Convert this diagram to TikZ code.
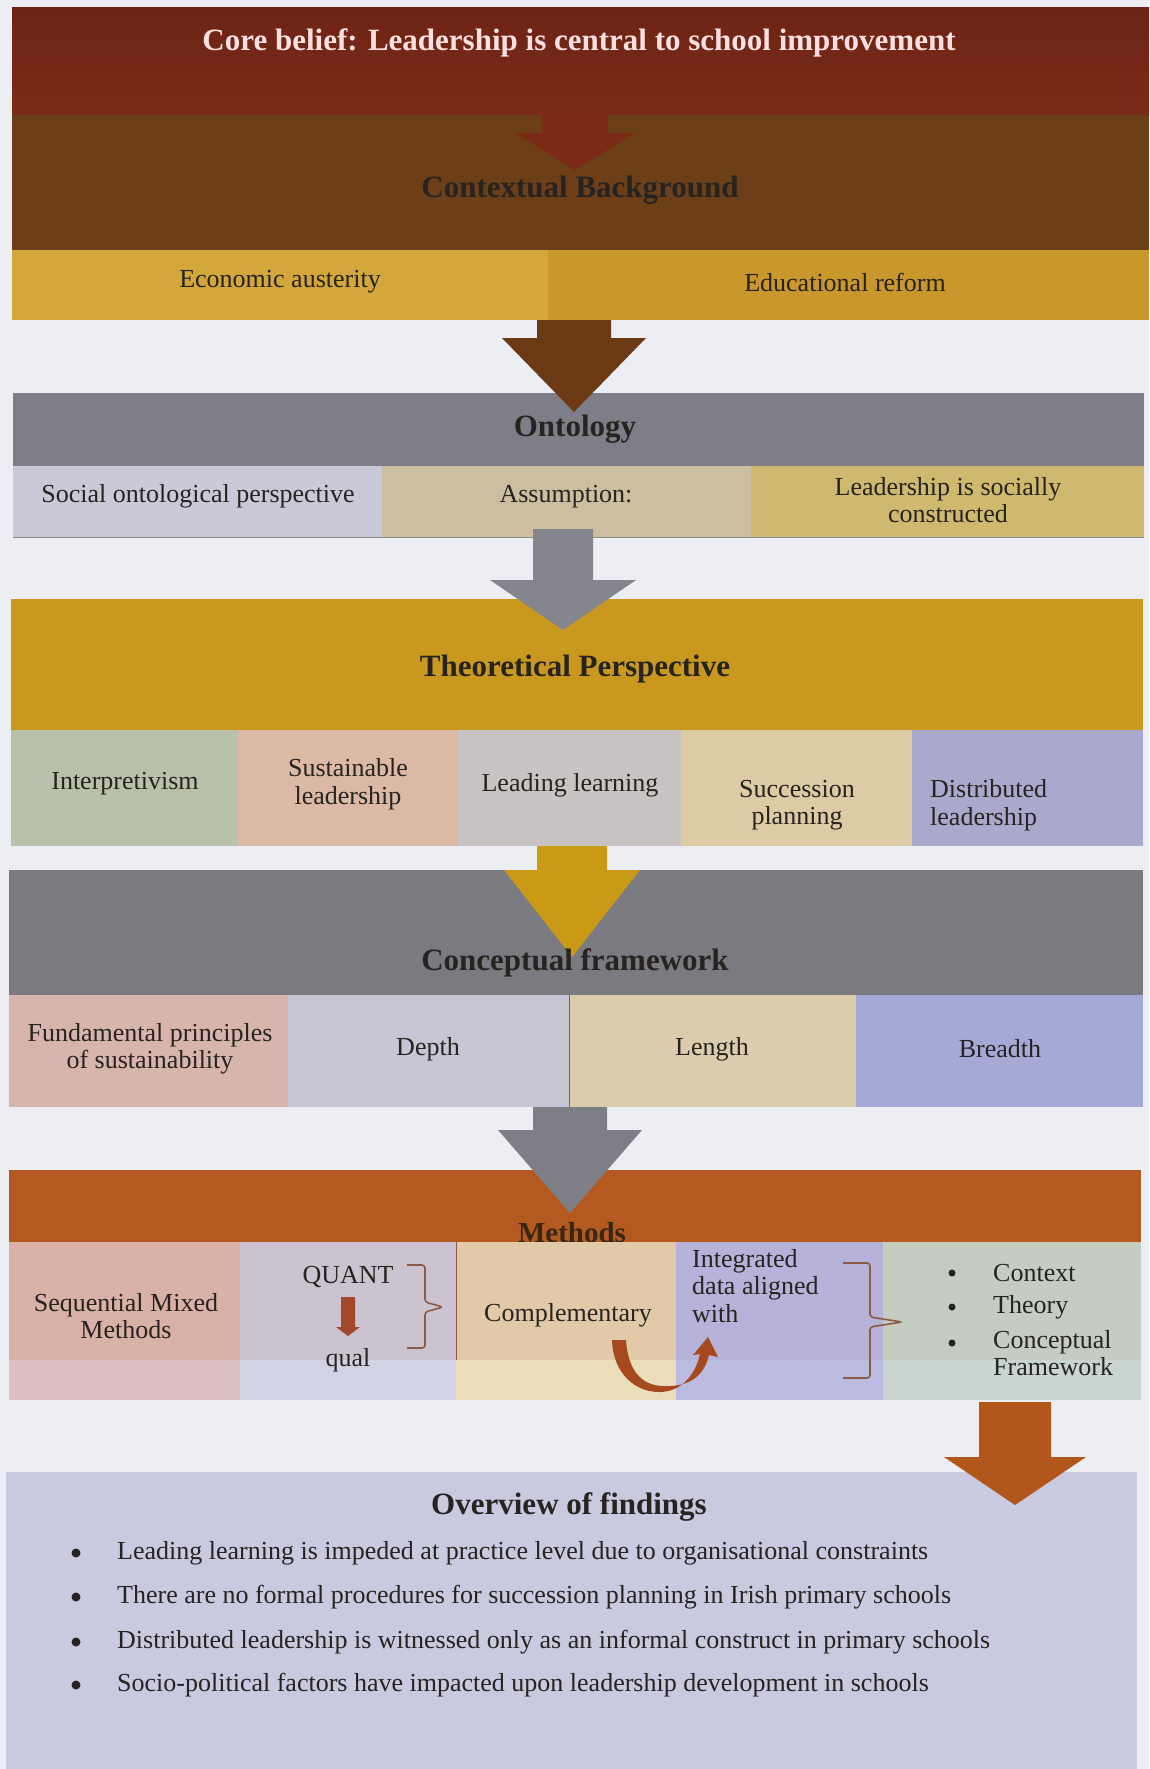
\documentclass[tikz,border=0pt]{standalone}
\usepackage{fontspec}
\usetikzlibrary{calc}
\setmainfont{Liberation Serif}
\definecolor{bg}{HTML}{EDEDF4}
\definecolor{coreA}{HTML}{6E2314}
\definecolor{coreB}{HTML}{7A2C18}
\definecolor{ctx}{HTML}{6C3F19}
\definecolor{ctxArrow}{HTML}{7A2A16}
\definecolor{yelL}{HTML}{D3A73B}
\definecolor{yelR}{HTML}{C9972B}
\definecolor{brownArrow}{HTML}{6B3913}
\definecolor{ontoHead}{HTML}{7F7E88}
\definecolor{ontoA}{HTML}{CAC9D7}
\definecolor{ontoB}{HTML}{CCBF9F}
\definecolor{ontoC}{HTML}{CFB96F}
\definecolor{greyArrow}{HTML}{85858E}
\definecolor{theoHead}{HTML}{C8981F}
\definecolor{theoA}{HTML}{B9C1AA}
\definecolor{theoB}{HTML}{DBB9A5}
\definecolor{theoC}{HTML}{C8C4C3}
\definecolor{theoD}{HTML}{DDCBA6}
\definecolor{theoE}{HTML}{AAA9CD}
\definecolor{yelArrow}{HTML}{C99A15}
\definecolor{concHead}{HTML}{7B7A81}
\definecolor{concA}{HTML}{D7B5AD}
\definecolor{concB}{HTML}{C6C6D5}
\definecolor{concC}{HTML}{DBCCAD}
\definecolor{concD}{HTML}{A5A9D5}
\definecolor{greyArrowB}{HTML}{7E7E86}
\definecolor{methHead}{HTML}{B45A21}
\definecolor{mA}{HTML}{D9B1A7}\definecolor{mAl}{HTML}{DDC0C2}
\definecolor{mB}{HTML}{CBC4D0}\definecolor{mBl}{HTML}{D2D2E5}
\definecolor{mC}{HTML}{E2CAA8}\definecolor{mCl}{HTML}{ECDDBA}
\definecolor{mD}{HTML}{B7B2D9}\definecolor{mDl}{HTML}{BBBBE2}
\definecolor{mE}{HTML}{C5CDC1}\definecolor{mEl}{HTML}{C8D5D1}
\definecolor{orArrow}{HTML}{B1571C}
\definecolor{overview}{HTML}{C9C9E0}
\definecolor{uArrow}{HTML}{A54A1E}
\definecolor{quantArrow}{HTML}{A2482B}
\definecolor{braceCol}{HTML}{8E5A48}
\definecolor{ink}{HTML}{262320}

% block arrow: centre x, shaft top, shaft half width, head top, head half width, tip y, colour
\newcommand{\blockarrow}[7]{%
  \fill[#7] ({#1-#3},#2) -- ({#1+#3},#2) -- ({#1+#3},#4) -- ({#1+#5},#4)
    -- (#1,#6) -- ({#1-#5},#4) -- ({#1-#3},#4) -- cycle;}

\begin{document}
\begin{tikzpicture}[x=1pt,y=-1pt,
  txt/.style={font=\fontsize{26}{27.5}\selectfont, text=ink, align=center, inner sep=0pt},
  txtl/.style={txt, align=left, anchor=west},
  head/.style={font=\bfseries\fontsize{31}{33}\selectfont, text=ink, inner sep=0pt},
  bul/.style={font=\fontsize{26}{28}\selectfont, text=ink, inner sep=0pt, anchor=west},
  dot/.style={circle, fill=ink, inner sep=0pt, minimum size=9pt},
  brace/.style={draw=braceCol, line width=1.6pt, rounded corners=3pt}]
\useasboundingbox (0,0) rectangle (1149,1769);
\fill[bg] (0,0) rectangle (1149,1769);

% ---- core belief ----
\shade[top color=coreA, bottom color=coreB] (12,8) rectangle (1149,115);
\node[font=\bfseries\fontsize{31}{33}\selectfont, text=white!88!red, inner sep=0pt] (core) at (579,43)
  {Core belief: Leadership is central to school improvement};

% ---- contextual background ----
\fill[ctx] (12,115) rectangle (1149,250);
\blockarrow{575}{113}{33}{133}{60}{170}{ctxArrow}
\node[head] (ctxh) at (580,190) {Contextual Background};
\fill[yelL] (12,250) rectangle (548,320);
\fill[yelR] (548,250) rectangle (1149,320);
\node[txt] (econ) at (280,282) {Economic austerity};
\node[txt] (edu) at (845,282) {Educational reform};

% ---- ontology ----
\fill[ontoHead] (13,393) rectangle (1144,466);
\fill[ontoA] (13,466) rectangle (382,537);
\fill[ontoB] (382,466) rectangle (751,537);
\fill[ontoC] (751,466) rectangle (1144,537);
\draw[black!45, line width=0.8pt] (13,537) -- (1144,537);
\blockarrow{574}{320}{37}{338}{72}{412}{brownArrow}
\node[head] (onto) at (575,429) {Ontology};
\node[txt] (social) at (198,496) {Social ontological perspective};
\node[txt] (assum) at (566,497) {Assumption:};
\node[txt] (constr) at (948,500) {Leadership is socially\\constructed};

% ---- theoretical perspective ----
\fill[theoHead] (11,599) rectangle (1143,730);
\fill[theoA] (11,730) rectangle (238,846);
\fill[theoB] (238,730) rectangle (458,846);
\fill[theoC] (458,730) rectangle (681,846);
\fill[theoD] (681,730) rectangle (912,846);
\fill[theoE] (912,730) rectangle (1143,846);
\blockarrow{563}{529}{30}{580}{73}{630}{greyArrow}
\node[head] (theo) at (575,669) {Theoretical Perspective};
\node[txt] (interp) at (125,784) {Interpretivism};
\node[txt] (sustl) at (348,784) {Sustainable\\leadership};
\node[txt] (leadl) at (570,785) {Leading learning};
\node[txt] (succ) at (797,805) {Succession\\planning};
\node[txt, align=left, anchor=west] (distr) at (930,805) {Distributed\\leadership};

% ---- conceptual framework ----
\fill[concHead] (9,870) rectangle (1143,995);
\fill[concA] (9,995) rectangle (288,1107);
\fill[concB] (288,995) rectangle (569,1107);
\fill[concC] (569,995) rectangle (856,1107);
\fill[concD] (856,995) rectangle (1143,1107);
\draw[black!60, line width=1pt] (569,995) -- (569,1107);
\blockarrow{572}{846}{35}{870}{68}{957}{yelArrow}
\node[head] (conc) at (575,963) {Conceptual framework};
\node[txt] (fund) at (150,1049) {Fundamental principles\\of sustainability};
\node[txt] (depth) at (428,1049) {Depth};
\node[txt] (length) at (712,1049) {Length};
\node[txt] (breadth) at (1000,1049) {Breadth};

% ---- methods ----
\fill[methHead] (9,1170) rectangle (1141,1242);
\node[font=\bfseries\fontsize{29}{31}\selectfont, text=black!70!brown, inner sep=0pt, anchor=base] (meth) at (572,1242) {Methods};
\blockarrow{570}{1107}{37}{1130}{72}{1213}{greyArrowB}
\fill[mA] (9,1242) rectangle (240,1360);   \fill[mAl] (9,1360) rectangle (240,1400);
\fill[mB] (240,1242) rectangle (456,1360); \fill[mBl] (240,1360) rectangle (456,1400);
\fill[mC] (456,1242) rectangle (676,1360); \fill[mCl] (456,1360) rectangle (676,1400);
\fill[mD] (676,1242) rectangle (883,1360); \fill[mDl] (676,1360) rectangle (883,1400);
\fill[mE] (883,1242) rectangle (1141,1360);\fill[mEl] (883,1360) rectangle (1141,1400);
\draw[braceCol, line width=1pt] (456,1242) -- (456,1360);

\node[txt] (seq) at (126,1316) {Sequential Mixed\\Methods};
\node[txt] (quant) at (348,1277) {QUANT};
\node[txt] (qual) at (348,1360) {qual};
\coordinate (qa) at (348,1297);
\coordinate (qb) at (348,1336);
\fill[quantArrow] ($(qa)+(-7,0)$) -- ($(qa)+(7,0)$) -- ($(qa)+(7,30)$) -- ($(qa)+(12,30)$)
  -- (qb) -- ($(qa)+(-12,30)$) -- ($(qa)+(-7,30)$) -- cycle;
\draw[brace] (407,1265) -- (425,1265) -- (425,1302) -- (443,1307) -- (425,1312) -- (425,1348) -- (407,1348);

\node[txt] (compl) at (568,1315) {Complementary};
\node[txtl] (integ) at (692,1286) {Integrated\\data aligned\\with};
\draw[brace] (843,1263) -- (870,1263) -- (870,1317) -- (902,1322) -- (870,1327) -- (870,1378) -- (843,1378);

% curved arrow from the complementary cell into the integrated cell
\fill[uArrow] (612,1340) .. controls (613,1374) and (636,1393) .. (661,1392)
  .. controls (681,1391) and (695,1376) .. (700,1354) -- (693,1355) -- (708,1337) -- (718,1357)
  -- (709,1355) .. controls (703,1380) and (685,1387) .. (662,1386)
  .. controls (641,1385) and (628,1370) .. (626,1340) -- cycle;

\foreach \yy/\nm/\tx in {1273/ctxb/Context, 1307/thb/Theory}{
  \node[dot, minimum size=7pt] at (952,\yy) {};
  \node[txtl] (\nm) at (993,\yy) {\tx};
}
\node[dot, minimum size=7pt] at (952,1343) {};
\node[txtl, anchor=north west] (cfb) at (993,1330) {Conceptual\\Framework};

% ---- overview of findings ----
\fill[overview] (6,1472) rectangle (1137,1769);
\blockarrow{1015}{1402}{36}{1457}{71}{1505}{orArrow}
\node[font=\bfseries\fontsize{31}{33}\selectfont, text=ink, inner sep=0pt] (over) at (569,1507) {Overview of findings};
\foreach \yy/\nm/\tx in {
  1553/fa/Leading learning is impeded at practice level due to organisational constraints,
  1597/fb/There are no formal procedures for succession planning in Irish primary schools,
  1642/fc/Distributed leadership is witnessed only as an informal construct in primary schools,
  1685/fd/Socio-political factors have impacted upon leadership development in schools}{
  \node[dot] at (76,\yy) {};
  \node[bul] (\nm) at (117,\yy) {\tx};
}
\end{tikzpicture}
\end{document}
